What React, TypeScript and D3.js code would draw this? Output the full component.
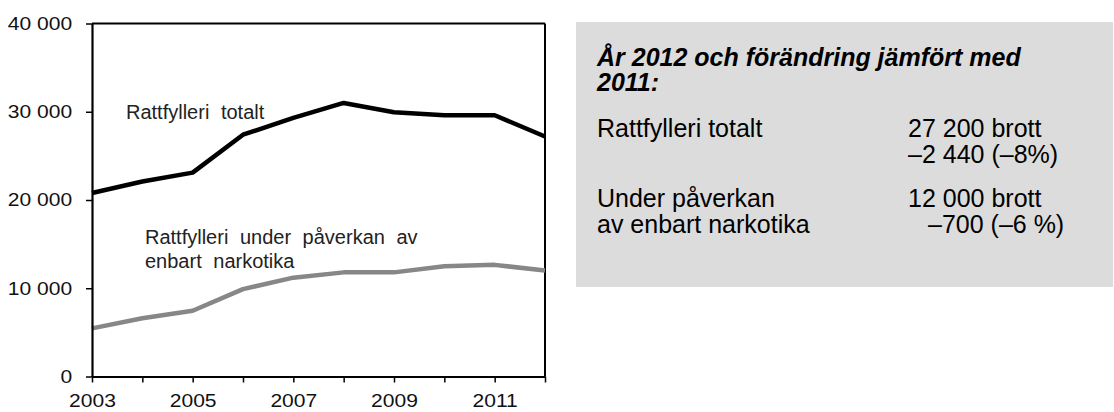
import React, { useEffect, useRef } from 'react';
import { axisBottom, axisLeft, formatLocale, line, scaleLinear, select } from 'd3';

const years = [2003, 2004, 2005, 2006, 2007, 2008, 2009, 2010, 2011, 2012];
const totalt = [20800, 22100, 23100, 27400, 29300, 31000, 29950, 29600, 29600, 27200];
const narkotika = [5450, 6600, 7450, 9900, 11200, 11800, 11800, 12500, 12650, 12000];
const yTicks = [0, 10000, 20000, 30000, 40000];
const xTicks = [2003, 2004, 2005, 2006, 2007, 2008, 2009, 2010, 2011, 2012];
const xLabelYears = [2003, 2005, 2007, 2009, 2011];

const boxTitle = ['År 2012 och förändring jämfört med', '2011:'];
const boxRows = [
  { label: 'Rattfylleri totalt', value: '27 200 brott', sub: '', change: '–2 440 (–8%)' },
  { label: 'Under påverkan', value: '12 000 brott', sub: 'av enbart narkotika', change: '–700 (–6 %)' },
];

const FONT = "Arial, 'Liberation Sans', sans-serif";

const App = () => {
  const xAxisRef = useRef<SVGGElement>(null);
  const yAxisRef = useRef<SVGGElement>(null);

  const x = scaleLinear().domain([2003, 2012]).range([92, 545]);
  const y = scaleLinear().domain([0, 40000]).range([376.5, 23.5]);

  const fmt = formatLocale({ decimal: ',', thousands: ' ', grouping: [3], currency: ['', ''] }).format(',d');

  useEffect(() => {
    // y axis, labels stretched a little like the original
    const ya = select(yAxisRef.current);
    ya.call(axisLeft(y).tickValues(yTicks).tickSize(6).tickSizeOuter(0).tickFormat((d: any) => fmt(d)));
    ya.select('.domain').attr('stroke-width', 2.2);
    ya.selectAll('.tick line').attr('stroke-width', 1.5);
    ya.selectAll('.tick text')
      .attr('x', -17)
      .attr('font-size', 18)
      .attr('font-family', FONT)
      .attr('fill', '#111')
      .attr('transform', 'scale(1.17,1)');

    // x axis
    const xa = select(xAxisRef.current);
    xa.call(axisBottom(x).tickValues(xTicks).tickSize(6).tickSizeOuter(0)
      .tickFormat((d: any) => (xLabelYears.includes(d) ? String(d) : '')));
    xa.select('.domain').attr('stroke-width', 2.2);
    xa.selectAll('.tick line').attr('stroke-width', 1.5);
    xa.selectAll('.tick text')
      .attr('y', 31)
      .attr('dy', '0')
      .attr('font-size', 18)
      .attr('font-family', FONT)
      .attr('fill', '#111')
      .attr('transform', 'scale(1.17,1)');
  }, []);

  const makeLine = line<number>()
    .x((_, i) => x(years[i]))
    .y((d) => y(d));

  return (
    <svg width={1114} height={412} style={{ position: 'absolute', left: 0, top: 0, background: '#fff' }}>
      {/* frame top and right */}
      <line x1={x(2003)} x2={x(2012)} y1={y(40000)} y2={y(40000)} stroke="#000" strokeWidth={1.8} />
      <line x1={x(2012)} x2={x(2012)} y1={y(40000)} y2={y(0)} stroke="#000" strokeWidth={2} />

      <path d={makeLine(narkotika) || ''} fill="none" stroke="#878787" strokeWidth={4.5} strokeLinejoin="round" />
      <path d={makeLine(totalt) || ''} fill="none" stroke="#000" strokeWidth={4.5} strokeLinejoin="round" />

      <g ref={yAxisRef} transform={`translate(${x(2003)},0)`} />
      <g ref={xAxisRef} transform={`translate(0,${y(0)})`} />

      <g fontFamily={FONT} fontSize={20} fill="#222" wordSpacing={6}>
        <text x={126} y={119}>Rattfylleri totalt</text>
        <text x={145} y={244}>Rattfylleri under påverkan av</text>
        <text x={145} y={268}>enbart narkotika</text>
      </g>

      <rect x={576} y={22} width={537} height={265} fill="#dcdcdc" />
      <g fontFamily={FONT} fontSize={25} fill="#000">
        <text x={597} y={66} fontWeight="bold" fontStyle="italic">{boxTitle[0]}</text>
        <text x={597} y={91} fontWeight="bold" fontStyle="italic">{boxTitle[1]}</text>

        <text x={597} y={137}>{boxRows[0].label}</text>
        <text x={908} y={137}>{boxRows[0].value}</text>
        <text x={908} y={163}>{boxRows[0].change}</text>

        <text x={597} y={207}>{boxRows[1].label}</text>
        <text x={908} y={207}>{boxRows[1].value}</text>
        <text x={597} y={233}>{boxRows[1].sub}</text>
        <text x={928} y={233}>{boxRows[1].change}</text>
      </g>
    </svg>
  );
};

export default App;
